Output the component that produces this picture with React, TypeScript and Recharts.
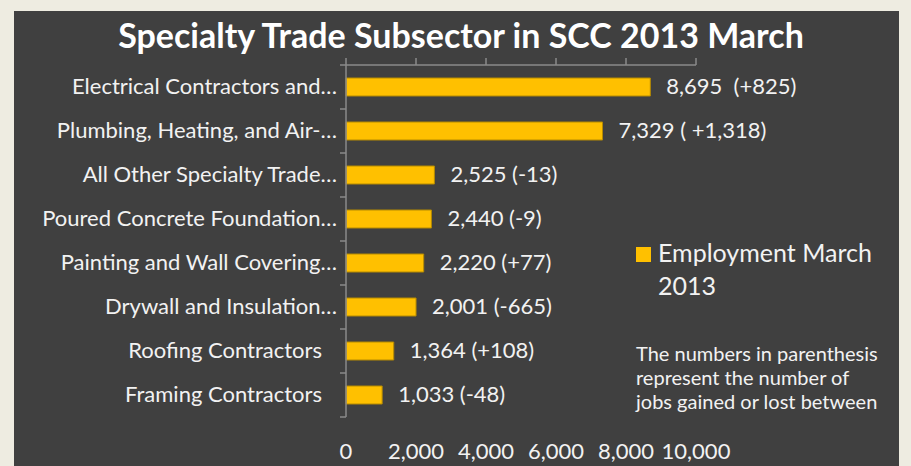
import React from "react";
import { BarChart, Bar, XAxis, YAxis, LabelList, Legend } from "recharts";

const categories = [
  "Electrical Contractors and…",
  "Plumbing, Heating, and Air-…",
  "All Other Specialty Trade…",
  "Poured Concrete Foundation…",
  "Painting and Wall Covering…",
  "Drywall and Insulation…",
  "Roofing Contractors",
  "Framing Contractors",
];
const employment = [8695, 7329, 2525, 2440, 2220, 2001, 1364, 1033];
const valueLabels = [
  "8,695  (+825)",
  "7,329 ( +1,318)",
  "2,525 (-13)",
  "2,440 (-9)",
  "2,220 (+77)",
  "2,001 (-665)",
  "1,364 (+108)",
  "1,033 (-48)",
];
const xTicks = [0, 2000, 4000, 6000, 8000, 10000];
const seriesName = "Employment March 2013";
const titleText = "Specialty Trade Subsector in SCC 2013 March";
const noteLines = [
  "The numbers in parenthesis",
  "represent the number of",
  "jobs gained or lost between",
];

const data = categories.map((c, i) => ({
  name: c,
  value: employment[i],
  label: valueLabels[i],
}));

const W = 911;
const H = 466;
const PLOT_LEFT = 346;
const PLOT_RIGHT = 696;
const PLOT_TOP = 65;
const PLOT_BOTTOM = 417;
const BAND = (PLOT_BOTTOM - PLOT_TOP) / categories.length;
const FONT = "Lato, 'Open Sans', sans-serif";
const AXIS_COLOR = "#8a8a8a";
const TEXT = "#f2f2f2";
const BAR = "#FFC000";

const YTick = (props: any) => {
  const { y, payload, index } = props;
  const isLast = index === categories.length - 1;
  const label = String(payload.value);
  const dx = label.endsWith("…") ? 0 : -15;
  return (
    <g>
      <line x1={PLOT_LEFT - 6} x2={PLOT_LEFT} y1={y - BAND / 2} y2={y - BAND / 2} stroke={AXIS_COLOR} strokeWidth={1.5} />
      {isLast && (
        <line x1={PLOT_LEFT - 6} x2={PLOT_LEFT} y1={y + BAND / 2} y2={y + BAND / 2} stroke={AXIS_COLOR} strokeWidth={1.5} />
      )}
      <text x={PLOT_LEFT - 9 + dx} y={y} dy={7} textAnchor="end" fill={TEXT} fontSize={22} fontFamily={FONT}>
        {label}
      </text>
    </g>
  );
};

// top axis draws the tick marks; its labels are placed low, under the plot
const LowTick = (props: any) => {
  const { x, payload } = props;
  return (
    <text x={x} y={PLOT_BOTTOM + 42} textAnchor="middle" fill={TEXT} fontSize={22} fontFamily={FONT}>
      {Number(payload.value).toLocaleString("en-US")}
    </text>
  );
};

const ValueLabel = (props: any) => {
  const { x, y, width, height, value } = props;
  return (
    <text
      x={Number(x) + Number(width) + 16}
      y={Number(y) + Number(height) / 2}
      dy={7}
      fill={TEXT}
      fontSize={22}
      fontFamily={FONT}
      style={{ whiteSpace: "pre" }}
      xmlSpace="preserve"
    >
      {value}
    </text>
  );
};

const LegendContent = () => (
  <div style={{ fontFamily: FONT, color: TEXT, fontSize: 25, lineHeight: "33px", position: "relative", textAlign: "left" }}>
    <span style={{ position: "absolute", left: 0, top: 11, width: 15, height: 15, background: BAR }} />
    <div style={{ marginLeft: 22, width: 240 }}>{seriesName}</div>
  </div>
);

export default function App() {
  return (
    <div style={{ position: "absolute", left: 0, top: 0, width: W, height: H, background: "#EEECE1", overflow: "hidden" }}>
      <div style={{ position: "absolute", left: 14, top: 11, width: 885, height: H - 11, background: "#404040" }} />
      <div
        style={{
          position: "absolute",
          left: 0,
          top: 14,
          width: 922,
          textAlign: "center",
          fontFamily: FONT,
          fontWeight: 700,
          fontSize: 34,
          color: "#ffffff",
          lineHeight: "42px",
        }}
      >
        {titleText}
      </div>
      <div style={{ position: "absolute", left: 0, top: 0 }}>
        <BarChart
          width={W}
          height={H}
          data={data}
          layout="vertical"
          margin={{ top: PLOT_TOP - 10, right: W - PLOT_RIGHT, bottom: H - PLOT_BOTTOM, left: 16 }}
          barSize={18}
        >
          <XAxis
            orientation="top"
            type="number"
            domain={[0, 10000]}
            ticks={xTicks}
            height={10}
            tick={<LowTick />}
            tickSize={7}
            axisLine={{ stroke: AXIS_COLOR, strokeWidth: 1.5 }}
            tickLine={{ stroke: AXIS_COLOR, strokeWidth: 1.5 }}
          />
          <YAxis
            type="category"
            dataKey="name"
            width={330}
            axisLine={{ stroke: AXIS_COLOR, strokeWidth: 1.5 }}
            tickLine={false}
            tick={<YTick />}
            interval={0}
          />
          <Legend
            content={<LegendContent />}
            layout="horizontal"
            verticalAlign="middle"
            align="center"
            wrapperStyle={{ left: 636, top: 236, width: 260 }}
          />
          <Bar
            dataKey="value"
            name={seriesName}
            fill={BAR}
            stroke="#b58a00"
            strokeWidth={1}
            isAnimationActive={false}
          >
            <LabelList dataKey="label" content={<ValueLabel />} />
          </Bar>
        </BarChart>
      </div>
      <div
        style={{
          position: "absolute",
          left: 636,
          top: 341,
          fontFamily: FONT,
          fontSize: 20,
          lineHeight: "24px",
          color: TEXT,
          whiteSpace: "nowrap",
        }}
      >
        {noteLines.map((l, i) => (
          <div key={i}>{l}</div>
        ))}
      </div>
    </div>
  );
}
